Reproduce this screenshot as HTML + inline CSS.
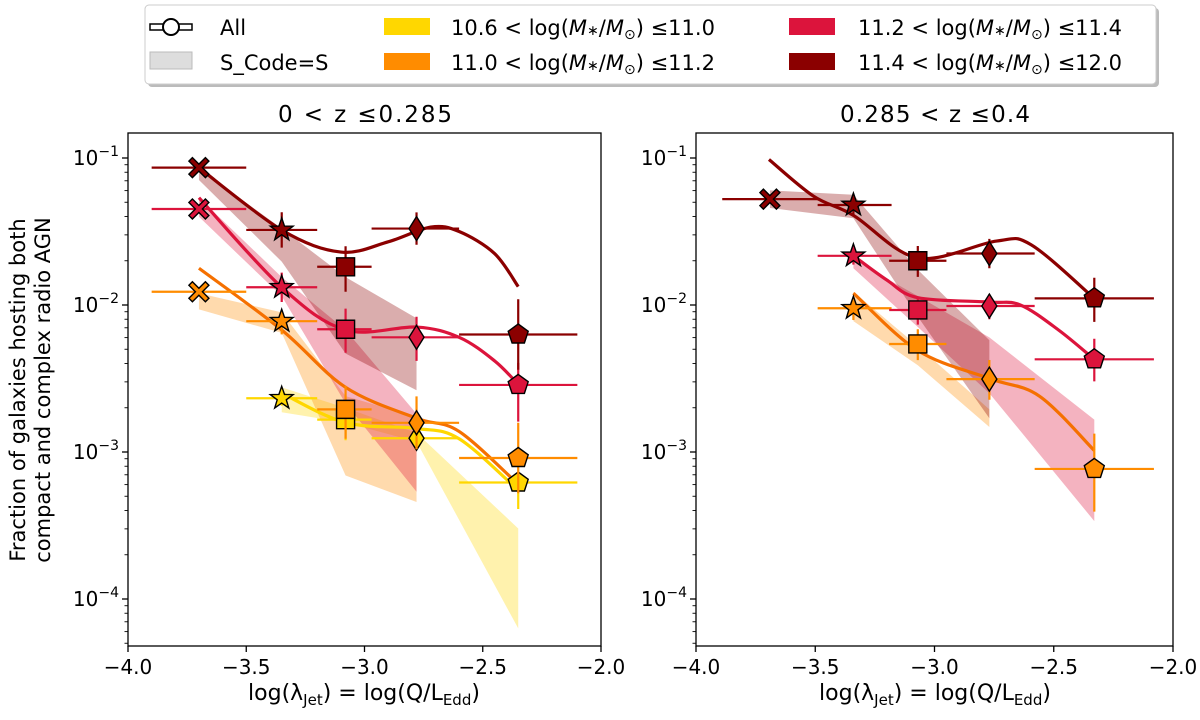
<!DOCTYPE html>
<html><head><meta charset="utf-8"><style>
body{margin:0;background:#fff;}
svg{display:block;font-family:"DejaVu Sans","Liberation Sans",sans-serif;}
</style></head><body>
<svg id="chart" width="1200" height="720" viewBox="0 0 1200 720" xmlns="http://www.w3.org/2000/svg">
<g id="legend">
 <rect x="148" y="8" width="1011" height="79" rx="4" fill="#bbb"/>
 <rect x="145" y="5" width="1011" height="79" rx="4" fill="#fff" stroke="#ccc"/>
 <g>
  <rect x="150" y="24" width="42" height="6" fill="#fff" stroke="#000" stroke-width="1.5"/>
  <circle cx="171" cy="27" r="8" fill="#fff" stroke="#000" stroke-width="2"/>
  <text x="220" y="35" font-size="21">All</text>
 </g>
 <g>
  <rect x="150" y="52" width="42" height="17" fill="#ddd" stroke="#bbb"/>
  <text x="220" y="70" font-size="21">S_Code=S</text>
 </g>
 <g><rect x="384" y="18" width="46" height="17" fill="#FFD700"/><text x="451" y="35" font-size="21">10.6 &lt; log(<tspan font-style="italic">M</tspan><tspan font-size="14">∗</tspan>/<tspan font-style="italic">M</tspan><tspan font-size="14" dy="4">⊙</tspan><tspan dy="-4">) ≤11.0</tspan></text></g>
 <g><rect x="384" y="53" width="46" height="17" fill="#FF8C00"/><text x="451" y="70" font-size="21">11.0 &lt; log(<tspan font-style="italic">M</tspan><tspan font-size="14">∗</tspan>/<tspan font-style="italic">M</tspan><tspan font-size="14" dy="4">⊙</tspan><tspan dy="-4">) ≤11.2</tspan></text></g>
 <g><rect x="789" y="18" width="46" height="17" fill="#DC143C"/><text x="858" y="35" font-size="21">11.2 &lt; log(<tspan font-style="italic">M</tspan><tspan font-size="14">∗</tspan>/<tspan font-style="italic">M</tspan><tspan font-size="14" dy="4">⊙</tspan><tspan dy="-4">) ≤11.4</tspan></text></g>
 <g><rect x="789" y="53" width="46" height="17" fill="#8B0000"/><text x="858" y="70" font-size="21">11.4 &lt; log(<tspan font-style="italic">M</tspan><tspan font-size="14">∗</tspan>/<tspan font-style="italic">M</tspan><tspan font-size="14" dy="4">⊙</tspan><tspan dy="-4">) ≤12.0</tspan></text></g>
</g>
<text x="365" y="122" font-size="23" text-anchor="middle" textLength="174" lengthAdjust="spacing">0 &lt; z ≤0.285</text>
<text x="935" y="122" font-size="23" text-anchor="middle" textLength="190" lengthAdjust="spacing">0.285 &lt; z ≤0.4</text>
<g transform="translate(25,390) rotate(-90)">
 <text x="0" y="0" font-size="21" text-anchor="middle">Fraction of galaxies hosting both</text>
 <text x="0" y="25" font-size="21" text-anchor="middle">compact and complex radio AGN</text>
</g>
<text x="364" y="700" font-size="22" text-anchor="middle">log(λ<tspan font-size="15" dy="5">Jet</tspan><tspan dy="-5">) = log(Q/L</tspan><tspan font-size="15" dy="5">Edd</tspan><tspan dy="-5">)</tspan></text>
<text x="935" y="700" font-size="22" text-anchor="middle">log(λ<tspan font-size="15" dy="5">Jet</tspan><tspan dy="-5">) = log(Q/L</tspan><tspan font-size="15" dy="5">Edd</tspan><tspan dy="-5">)</tspan></text>
</svg>
<script>
// ---- data ----
const colors = ["#FFD700","#FF8C00","#DC143C","#8B0000"];
const lineColors = ["#FFD700","#F57000","#DC143C","#8B0000"];
const xTicks = [-4.0,-3.5,-3.0,-2.5,-2.0];
const xTickLabels = ["−4.0","−3.5","−3.0","−2.5","−2.0"];
const yTicksLog = [-1,-2,-3,-4];
const yTickLabels = ["−1","−2","−3","−4"];
const markerShapes = ["X","star","square","diamond","pentagon"];
// left panel (0<z<=0.285)
const L_x = [-3.7,-3.35,-3.08,-2.78,-2.35];
const L_binLo = [-3.9,-3.5,-3.2,-2.97,-2.6];
const L_binHi = [-3.5,-3.2,-2.97,-2.6,-2.1];
const L_yellow = [null,0.00232,0.00166,0.00124,0.00062];
const L_orange = [0.0123,0.00776,0.00195,0.00158,0.00091];
const L_crimson = [0.045,0.0132,0.00684,0.00603,0.00286];
const L_darkred = [0.086,0.0324,0.0182,0.0331,0.0063];
const L_errLo_yellow=[0,0.05,0.14,0.08,0.18], L_errHi_yellow=[0,0.05,0.07,0.06,0.05];
const L_errLo_orange=[0.03,0.09,0.2,0.18,0.24], L_errHi_orange=[0.03,0.07,0.16,0.18,0.24];
const L_errLo_crimson=[0.03,0.1,0.16,0.16,0.25], L_errHi_crimson=[0.03,0.1,0.14,0.14,0.15];
const L_errLo_darkred=[0.03,0.12,0.17,0.11,0.24], L_errHi_darkred=[0.03,0.12,0.14,0.11,0.24];
// S_Code=S bands (log10 fraction)
const L_bandX_yellow=[-3.35,-3.08,-2.78,-2.35], L_bandHi_yellow=[-2.56,-2.70,-2.87,-3.52], L_bandLo_yellow=[-2.73,-2.80,-2.93,-4.20];
const L_bandX_orange=[-3.7,-3.35,-3.08,-2.78], L_bandHi_orange=[-1.92,-2.05,-2.62,-2.76], L_bandLo_orange=[-2.03,-2.19,-3.16,-3.34];
const L_bandX_crimson=[-3.7,-3.35,-3.08,-2.78], L_bandHi_crimson=[-1.27,-1.81,-2.17,-2.74], L_bandLo_crimson=[-1.40,-1.94,-2.67,-3.27];
const L_bandX_darkred=[-3.7,-3.35,-3.08,-2.78], L_bandHi_darkred=[-1.07,-1.48,-1.81,-2.09], L_bandLo_darkred=[-1.15,-1.705,-2.33,-2.58];
// fitted curves (log10 fraction)
const L_curveX_yellow=[-3.35,-3.08,-2.78,-2.6,-2.35], L_curveY_yellow=[-2.60,-2.80,-2.84,-2.91,-3.26];
const L_curveX_orange=[-3.7,-3.35,-3.08,-2.78,-2.6,-2.35], L_curveY_orange=[-1.75,-2.17,-2.56,-2.77,-2.86,-3.22];
const L_curveX_crimson=[-3.7,-3.35,-3.08,-2.78,-2.6,-2.45,-2.35], L_curveY_crimson=[-1.27,-1.88,-2.17,-2.15,-2.22,-2.38,-2.54];
const L_curveX_darkred=[-3.7,-3.35,-3.1,-2.9,-2.72,-2.6,-2.45,-2.35], L_curveY_darkred=[-1.066,-1.49,-1.64,-1.57,-1.47,-1.5,-1.65,-1.875];
// right panel (0.285<z<=0.4)
const R_x = [-3.69,-3.34,-3.07,-2.77,-2.33];
const R_binLo = [-3.89,-3.49,-3.19,-2.95,-2.58];
const R_binHi = [-3.49,-3.18,-2.95,-2.58,-2.08];
const R_orange = [null,0.0095,0.00543,0.00313,0.000767];
const R_crimson = [null,0.0216,0.00925,0.00984,0.00427];
const R_darkred = [0.0525,0.0479,0.0200,0.0224,0.0111];
const R_errLo_orange=[0,0.08,0.11,0.14,0.29], R_errHi_orange=[0,0.07,0.1,0.13,0.24];
const R_errLo_crimson=[0,0.06,0.1,0.09,0.15], R_errHi_crimson=[0,0.07,0.08,0.08,0.14];
const R_errLo_darkred=[0.03,0.07,0.11,0.1,0.16], R_errHi_darkred=[0.03,0.07,0.1,0.1,0.14];
const R_bandX_orange=[-3.34,-3.07,-2.77], R_bandHi_orange=[-1.91,-2.28,-2.71], R_bandLo_orange=[-2.11,-2.41,-2.83];
const R_bandX_crimson=[-3.34,-3.07,-2.77,-2.33], R_bandHi_crimson=[-1.69,-1.94,-2.22,-2.78], R_bandLo_crimson=[-1.75,-2.15,-2.60,-3.47];
const R_bandX_darkred=[-3.69,-3.34,-3.07,-2.77], R_bandHi_darkred=[-1.22,-1.25,-1.76,-2.24], R_bandLo_darkred=[-1.34,-1.41,-2.08,-2.77];
const R_curveX_orange=[-3.34,-3.07,-2.77,-2.56,-2.33], R_curveY_orange=[-1.92,-2.31,-2.50,-2.62,-2.99];
const R_curveX_crimson=[-3.34,-3.2,-3.07,-2.77,-2.64,-2.48,-2.33], R_curveY_crimson=[-1.665,-1.83,-1.95,-1.98,-2.0,-2.17,-2.37];
const R_curveX_darkred=[-3.694,-3.507,-3.34,-3.07,-2.74,-2.595,-2.33], R_curveY_darkred=[-1.01,-1.26,-1.39,-1.68,-1.565,-1.59,-1.955];

// ---- drawing ----
const NS="http://www.w3.org/2000/svg";
const svg=document.getElementById('chart');
const legend=document.getElementById('legend');
function mk(tag,attrs,parent){const e=document.createElementNS(NS,tag);for(const k in attrs)e.setAttribute(k,attrs[k]);(parent||svg).insertBefore(e,legend);return e;}
const yTop=133,yBot=646;
function yScale(lg){return 158+(-1-lg)*147;}
function makeX(x0,w){return v=>x0+(v+4)/2*w;}
function curvePath(pts){let d="M"+pts[0][0]+","+pts[0][1];for(let i=0;i<pts.length-1;i++){const p0=pts[Math.max(0,i-1)],p1=pts[i],p2=pts[i+1],p3=pts[Math.min(pts.length-1,i+2)];
 const c1=[p1[0]+(p2[0]-p0[0])/6,p1[1]+(p2[1]-p0[1])/6],c2=[p2[0]-(p3[0]-p1[0])/6,p2[1]-(p3[1]-p1[1])/6];
 d+=" C"+c1+" "+c2+" "+p2;}return d;}
function markerPath(shape,cx,cy){let pts=[];
 if(shape==="square"){const s=9;return `M${cx-s},${cy-s}H${cx+s}V${cy+s}H${cx-s}Z`;}
 if(shape==="diamond"){return `M${cx},${cy-12}L${cx+7.5},${cy}L${cx},${cy+12}L${cx-7.5},${cy}Z`;}
 if(shape==="pentagon"){for(let i=0;i<5;i++){const a=-Math.PI/2+i*2*Math.PI/5;pts.push([cx+10.5*Math.cos(a),cy+10.5*Math.sin(a)]);}}
 if(shape==="star"){for(let i=0;i<10;i++){const a=-Math.PI/2+i*Math.PI/5,r=i%2?4.8:12;pts.push([cx+r*Math.cos(a),cy+r*Math.sin(a)]);}}
 if(shape==="X"){const p=[[-6.5,-10],[0,-3.5],[6.5,-10],[10,-6.5],[3.5,0],[10,6.5],[6.5,10],[0,3.5],[-6.5,10],[-10,6.5],[-3.5,0],[-10,-6.5]];
  pts=p.map(q=>[cx+q[0],cy+q[1]]);}
 return "M"+pts.map(p=>p[0].toFixed(1)+","+p[1].toFixed(1)).join("L")+"Z";}

function drawPanel(prefix,x0,w,xs,bLo,bHi,series){
 const xScale=makeX(x0,w);
 const fr=mk('rect',{x:x0,y:yTop,width:w,height:yBot-yTop,fill:'#fff',stroke:'none'});
 
 
 series.forEach(s=>{if(!s.bandX)return;const top=s.bandX.map((v,i)=>[xScale(v),yScale(s.bandHi[i])]);const bot=s.bandX.map((v,i)=>[xScale(v),yScale(s.bandLo[i])]).reverse();
  const p=mk('polygon',{points:top.concat(bot).map(q=>q.join(",")).join(" "),fill:s.color,'fill-opacity':0.32,stroke:'none'});
  
  });
 series.forEach(s=>{const pts=s.cx.map((v,i)=>[xScale(v),yScale(s.cy[i])]);
  const c=mk('path',{d:curvePath(pts),fill:'none',stroke:s.line,'stroke-width':3.2});
  
  });
 series.forEach(s=>{s.vals.forEach((v,i)=>{if(v==null)return;const lg=Math.log10(v);const px=xScale(xs[i]),py=yScale(lg);
  const g=mk('g',{});
  
  
  const eb=document.createElementNS(NS,'path');
  eb.setAttribute('d',`M${xScale(bLo[i])},${py}H${xScale(bHi[i])}M${px},${yScale(lg+s.eHi[i])}V${yScale(lg-s.eLo[i])}`);
  eb.setAttribute('stroke',s.color);eb.setAttribute('stroke-width',2.2);eb.setAttribute('fill','none');
  
  
  g.appendChild(eb);
  const m=document.createElementNS(NS,'path');
  m.setAttribute('d',markerPath(markerShapes[i],px,py));m.setAttribute('fill',s.color);m.setAttribute('stroke','#000');m.setAttribute('stroke-width',1.4);
  
  
  g.appendChild(m);});});
 const b=mk('rect',{x:x0,y:yTop,width:w,height:yBot-yTop,fill:'none',stroke:'#000','stroke-width':1.3});
 
 
 xTicks.forEach((t,i)=>{const px=xScale(t);mk('line',{x1:px,x2:px,y1:yBot,y2:yBot+6,stroke:'#000','stroke-width':1.3});
  const tx=mk('text',{x:px,y:yBot+28,'font-size':20,'text-anchor':'middle'});tx.textContent=xTickLabels[i];
  
  });
 yTicksLog.forEach((t,i)=>{const py=yScale(t);mk('line',{x1:x0-6,x2:x0,y1:py,y2:py,stroke:'#000','stroke-width':1.3});
  const tx=mk('text',{x:x0-9,y:py+7,'font-size':20,'text-anchor':'end'});
  tx.innerHTML='10<tspan font-size="14" dy="-9">'+yTickLabels[i]+'</tspan>';
  
  });
 for(let n=-5;n<=-1;n++)for(let k=2;k<=9;k++){const lg=n+Math.log10(k);const py=yScale(lg);if(py<yTop||py>yBot)continue;
  mk('line',{x1:x0-3.5,x2:x0,y1:py,y2:py,stroke:'#000','stroke-width':0.9});}
}
drawPanel('left',128,473,L_x,L_binLo,L_binHi,[
 {key:'yellow',color:colors[0],line:lineColors[0],vals:L_yellow,eLo:L_errLo_yellow,eHi:L_errHi_yellow,bandX:L_bandX_yellow,bandHi:L_bandHi_yellow,bandLo:L_bandLo_yellow,cx:L_curveX_yellow,cy:L_curveY_yellow},
 {key:'orange',color:colors[1],line:lineColors[1],vals:L_orange,eLo:L_errLo_orange,eHi:L_errHi_orange,bandX:L_bandX_orange,bandHi:L_bandHi_orange,bandLo:L_bandLo_orange,cx:L_curveX_orange,cy:L_curveY_orange},
 {key:'crimson',color:colors[2],line:lineColors[2],vals:L_crimson,eLo:L_errLo_crimson,eHi:L_errHi_crimson,bandX:L_bandX_crimson,bandHi:L_bandHi_crimson,bandLo:L_bandLo_crimson,cx:L_curveX_crimson,cy:L_curveY_crimson},
 {key:'darkred',color:colors[3],line:lineColors[3],vals:L_darkred,eLo:L_errLo_darkred,eHi:L_errHi_darkred,bandX:L_bandX_darkred,bandHi:L_bandHi_darkred,bandLo:L_bandLo_darkred,cx:L_curveX_darkred,cy:L_curveY_darkred}]);
drawPanel('right',696,477,R_x,R_binLo,R_binHi,[
 {key:'orange',color:colors[1],line:lineColors[1],vals:R_orange,eLo:R_errLo_orange,eHi:R_errHi_orange,bandX:R_bandX_orange,bandHi:R_bandHi_orange,bandLo:R_bandLo_orange,cx:R_curveX_orange,cy:R_curveY_orange},
 {key:'crimson',color:colors[2],line:lineColors[2],vals:R_crimson,eLo:R_errLo_crimson,eHi:R_errHi_crimson,bandX:R_bandX_crimson,bandHi:R_bandHi_crimson,bandLo:R_bandLo_crimson,cx:R_curveX_crimson,cy:R_curveY_crimson},
 {key:'darkred',color:colors[3],line:lineColors[3],vals:R_darkred,eLo:R_errLo_darkred,eHi:R_errHi_darkred,bandX:R_bandX_darkred,bandHi:R_bandHi_darkred,bandLo:R_bandLo_darkred,cx:R_curveX_darkred,cy:R_curveY_darkred}]);
</script>
</body></html>
